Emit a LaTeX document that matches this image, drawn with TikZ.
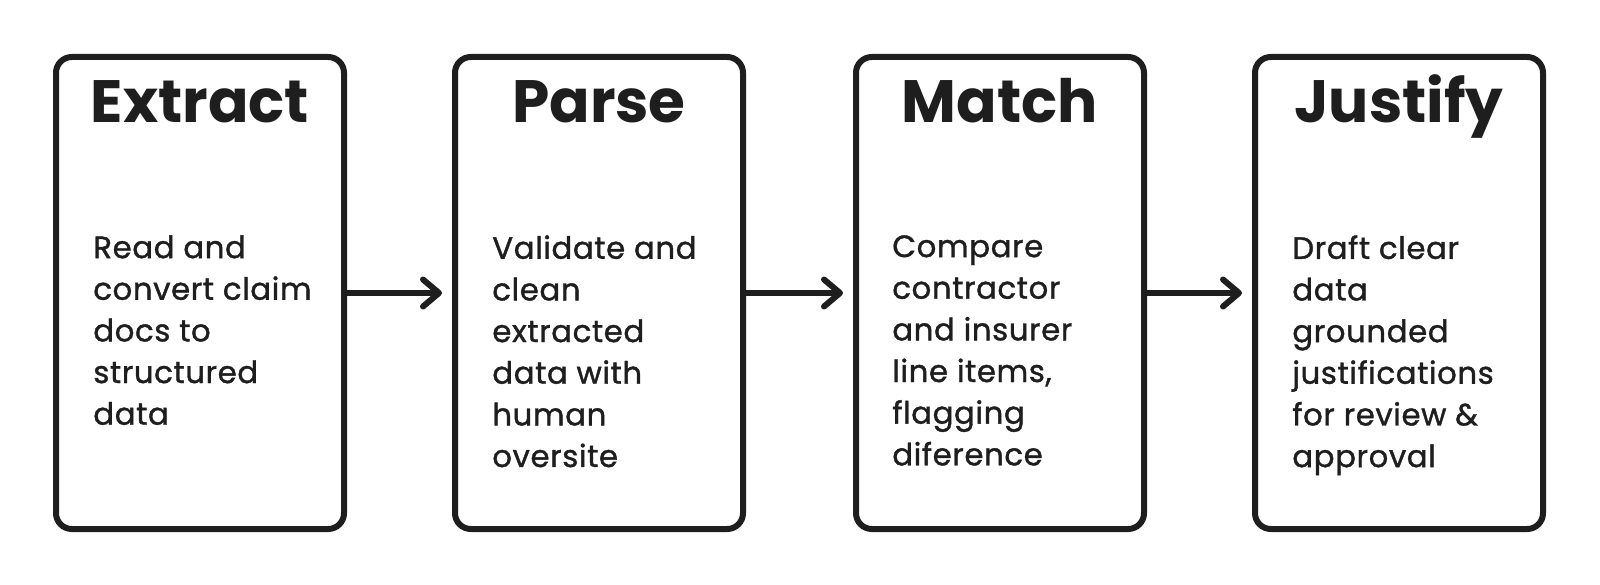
\documentclass[tikz,border=0pt]{standalone}
\usepackage{fontspec}
\setmainfont{Poppins}
\newfontfamily\notefont[LetterSpace=2, BoldFont=Poppins, BoldFeatures={FakeBold=1.2}]{Poppins}
\usepackage{tikz}
\usetikzlibrary{arrows.meta}
\definecolor{inkdark}{RGB}{30,30,30}

\begin{document}
\begin{tikzpicture}[
      stage/.style={draw=inkdark, line width=0.12cm, rounded corners=9pt, minimum width=5.76cm, minimum height=9.44cm, inner sep=0pt},
      heading/.style={anchor=base, inner sep=0pt, text=inkdark, font=\fontsize{34}{40}\selectfont\bfseries},
      blurb/.style={anchor=north west, inner sep=0pt, align=left, text=inkdark, font=\notefont\fontsize{17.5}{23.7}\selectfont\bfseries},
      flow/.style={draw=inkdark, line width=0.12cm, line cap=round, shorten >=0.2cm, -{Straight Barb[round, length=0.32cm, width=0.54cm]}}
    ]
      \useasboundingbox[fill=white] (0,0) rectangle (32,11.68);

      \node[stage] (extract) at (4, 5.82) {};
      \node[stage] (parse) at (11.98, 5.82) {};
      \node[stage] (match) at (20, 5.82) {};
      \node[stage] (justify) at (27.98, 5.82) {};

      \node[heading] (extracthead) at (4, 9.22) {Extract};
      \node[heading] (parsehead) at (11.98, 9.22) {Parse};
      \node[heading] (matchhead) at (20, 9.22) {Match};
      \node[heading] (justifyhead) at (27.98, 9.22) {Justify};

      \node[blurb] (extracttext) at (1.86, 6.98) {Read and\\convert claim\\docs to\\structured\\data};
      \node[blurb] (parsetext) at (9.84, 6.98) {Validate and\\clean\\extracted\\data with\\human\\oversite};
      \node[blurb] (matchtext) at (17.84, 6.98) {Compare\\contractor\\and insurer\\line items,\\flagging\\diference};
      \node[blurb] (justifytext) at (25.84, 6.98) {Draft clear\\data\\grounded\\justifications\\for review \&\\approval};

      \draw[flow] (extract) -- (parse);
      \draw[flow] (parse) -- (match);
      \draw[flow] (match) -- (justify);
    \end{tikzpicture}
\end{document}
